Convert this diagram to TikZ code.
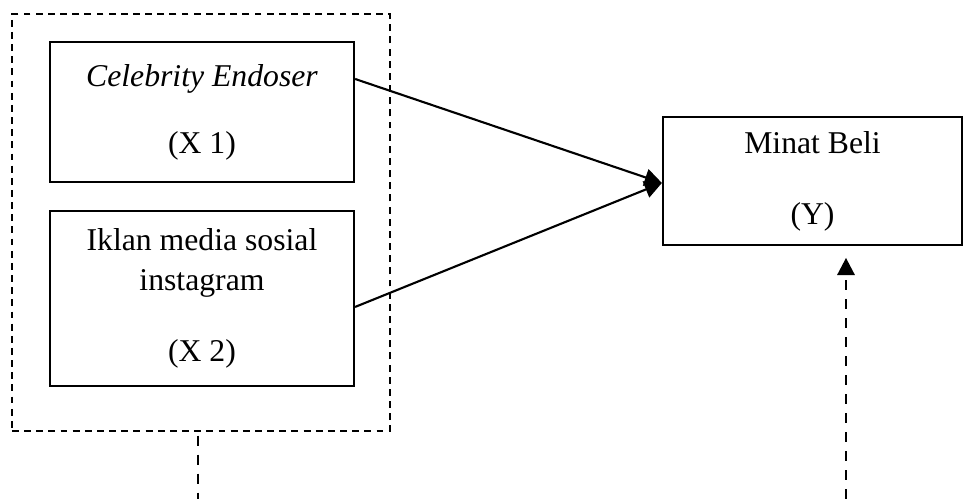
\documentclass[tikz,border=0pt]{standalone}
\usepackage{fontspec}
\setmainfont{Liberation Serif}
\usetikzlibrary{arrows.meta}

\begin{document}
\begin{tikzpicture}[
        x=0.3785pt, y=-0.3785pt,
        var/.style={draw, line width=0.8pt, align=center, inner sep=0pt, font=\fontsize{12}{15}\selectfont},
        link/.style={draw, line width=0.8pt, -{Triangle[length=6.5pt,width=6.5pt]}},
        group/.style={draw, line width=0.55pt, dash pattern=on 2.6pt off 2pt, inner sep=0pt},
        dashlink/.style={draw, line width=1pt, dash pattern=on 3.8pt off 3.4pt},
    ]
    \useasboundingbox (0,0) rectangle (963,499);
    \node[group, minimum width=143.1pt, minimum height=157.8pt](grp) at (201,222.5){};
    \node[var, minimum width=115.1pt, minimum height=53pt](x1) at (202,112){\textit{Celebrity Endoser}\\[10.4pt](X 1)};
    \node[var, minimum width=115.1pt, minimum height=66.2pt](x2) at (202,298.5){Iklan media sosial\\instagram\\[11.9pt](X 2)};
    \node[var, minimum width=113.2pt, minimum height=48.4pt](y) at (812.5,181){Minat Beli\\[11.9pt](Y)};
    \coordinate (c1) at (198,499);
    \coordinate (c2) at (846,499);
    \draw[link] ([yshift=12.5pt]x1.east) -- ([yshift=-0.75pt]y.west);
    \draw[link] ([yshift=-3.2pt]x2.east) -- ([yshift=-0.75pt]y.west);
    \draw[dashlink, shorten <=1.5pt] (grp.south -| c1) -- (c1);
    \draw[dashlink, shorten >=4.5pt, -{Triangle[length=6.5pt,width=6.5pt]}] (c2) -- (c2 |- y.south);
\end{tikzpicture}
\end{document}
